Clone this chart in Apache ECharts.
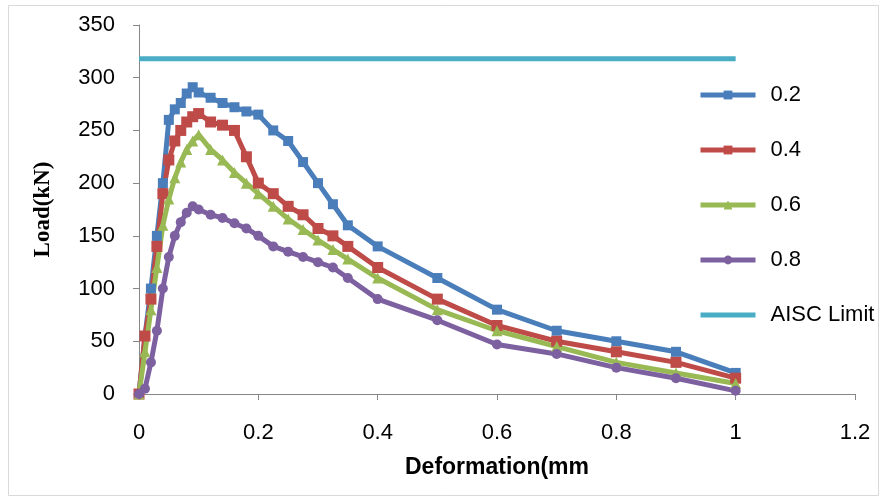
<!DOCTYPE html>
<html>
<head>
<meta charset="utf-8">
<script src="https://cdn.jsdelivr.net/npm/echarts@6/dist/echarts.min.js"></script>
<style>html,body{margin:0;padding:0;background:#fff}#c{width:885px;height:504px}</style>
</head>
<body>
<div id="c"></div>
<script>
// Data
const deformation = [0,0.01,0.02,0.03,0.04,0.05,0.06,0.07,0.08,0.09,0.1,0.12,0.14,0.16,0.18,0.2,0.225,0.25,0.275,0.3,0.325,0.35,0.4,0.5,0.6,0.7,0.8,0.9,1.0];
const load02 = [0,55,100,150,200,260,270,276,285,291,286,281,276,272,268,265,250,240,220,200,180,160,140,110,80,60,50,40,20];
const load04 = [0,55,90,140,190,222,240,250,258,263,266,258,255,250,225,200,190,178,170,157,150,140,120,90,65,50,40,30,15];
const load06 = [0,40,80,120,160,185,205,220,232,240,246,232,222,210,200,190,178,166,156,146,137,128,110,80,60,45,30,20,10];
const load08 = [0,5,30,60,100,130,150,163,172,178,175,170,167,162,157,150,140,135,130,125,120,110,90,70,47,38,25,15,3];
const aiscX = [0,1];
const aiscY = [318,318];
const seriesNames = ['0.2','0.4','0.6','0.8','AISC Limit'];
const xTicks = {min:0, max:1.2, interval:0.2};
const yTicks = {min:0, max:350, interval:50};

const pairs = (xs, ys) => xs.map((x,i)=>[x, ys[i]]);
const font = "'Liberation Sans', Arial, sans-serif";

const chart = echarts.init(document.getElementById('c'), null, {renderer:'canvas'});
function lineSeries(name, ys, color, symbol, size){
  return {
    name, type:'line', data: pairs(deformation, ys),
    symbol, symbolSize:size, showSymbol:true,
    lineStyle:{color, width:5},
    itemStyle:{color, borderWidth:0},
    z: 3
  };
}
chart.setOption({
  animation:false,
  backgroundColor:'#fff',
  graphic:[{type:'rect', shape:{x:8.5,y:5.5,width:870,height:490}, style:{fill:'none', stroke:'#d9d9d9', lineWidth:1}, z:-1}],
  grid:{left:139, right:30, top:25, bottom:110, containLabel:false},
  xAxis:{
    type:'value', min:xTicks.min, max:xTicks.max, interval:xTicks.interval,
    name:'Deformation(mm', nameLocation:'middle', nameGap:62,
    nameTextStyle:{fontFamily:font, fontWeight:'bold', fontSize:23, color:'#000'},
    axisLine:{show:true, onZero:false, lineStyle:{color:'#868686', width:1}},
    axisTick:{show:true, inside:false, length:6, lineStyle:{color:'#868686'}},
    splitLine:{show:false},
    axisLabel:{fontFamily:font, fontSize:22, color:'#000', margin:28,
      formatter:v=>String(Math.round(v*10)/10)}
  },
  yAxis:{
    type:'value', min:yTicks.min, max:yTicks.max, interval:yTicks.interval,
    name:'Load(kN)', nameLocation:'middle', nameGap:84, nameRotate:90,
    nameTextStyle:{fontFamily:"'Liberation Serif', 'Times New Roman', serif", fontWeight:'bold', fontSize:23, color:'#000'},
    axisLine:{show:true, lineStyle:{color:'#868686', width:1}},
    axisTick:{show:true, inside:false, length:6, lineStyle:{color:'#868686'}},
    splitLine:{show:false},
    axisLabel:{fontFamily:font, fontSize:22, color:'#000', margin:24}
  },
  legend:{
    orient:'vertical', left:693, top:78,
    itemWidth:55, itemHeight:11, itemGap:31,
    lineStyle:{width:5},
    data:[seriesNames[0], seriesNames[1], seriesNames[2], seriesNames[3], {name:seriesNames[4], itemStyle:{opacity:0}}],
    textStyle:{fontFamily:font, fontSize:22, color:'#000', lineHeight:24, padding:[0,0,0,10]}
  },
  series:[
    lineSeries(seriesNames[0], load02, '#4a7ebb', 'rect', 10),
    lineSeries(seriesNames[1], load04, '#be4b48', 'rect', 11),
    lineSeries(seriesNames[2], load06, '#98b954', 'triangle', 11),
    lineSeries(seriesNames[3], load08, '#7d60a0', 'circle', 10),
    {name:seriesNames[4], type:'line', data:pairs(aiscX, aiscY), symbol:'none',
     lineStyle:{color:'#4bacc6', width:5}, itemStyle:{color:'#4bacc6'}, z:2}
  ]
});
</script>
</body>
</html>
